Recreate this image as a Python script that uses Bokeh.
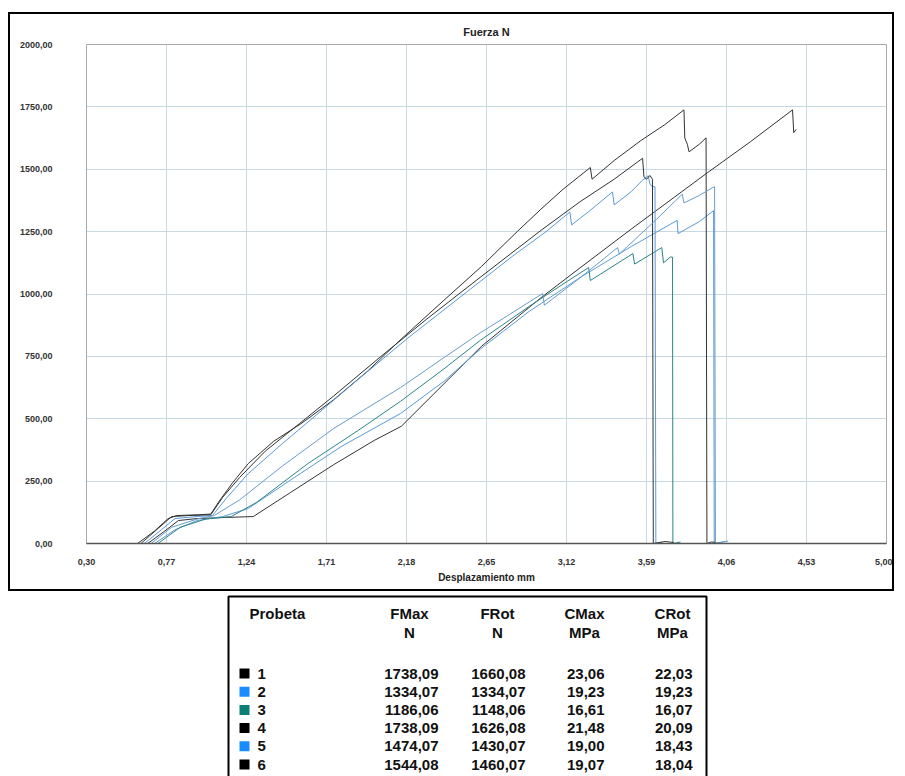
from bokeh.plotting import figure
from bokeh.models import Range1d, FixedTicker, Spacer
from bokeh.layouts import column, row
from bokeh.embed import file_html
from bokeh.resources import INLINE
from bokeh.core.properties import value

# ---------------- data ----------------
x_ticks = [0.30, 0.77, 1.24, 1.71, 2.18, 2.65, 3.12, 3.59, 4.06, 4.53, 5.00]
x_tick_labels = ["0,30", "0,77", "1,24", "1,71", "2,18", "2,65", "3,12", "3,59", "4,06", "4,53", "5,00"]
y_ticks = [0, 250, 500, 750, 1000, 1250, 1500, 1750, 2000]
y_tick_labels = ["0,00", "250,00", "500,00", "750,00", "1000,00", "1250,00", "1500,00", "1750,00", "2000,00"]

# specimen 1 (black)
c1_x = [0.66, 0.76, 0.84, 0.95, 1.10, 1.28, 1.50, 1.75, 1.99, 2.15, 2.36, 2.62, 2.97, 3.20, 3.50, 3.95, 4.20, 4.448, 4.455, 4.47]
c1_y = [0, 50, 92, 100, 104, 108, 205, 315, 413, 470, 613, 790, 985, 1105, 1260, 1487, 1610, 1738, 1647, 1660]
# specimen 2 (blue)
c2_x = [0.70, 0.82, 0.95, 1.10, 1.25, 1.50, 1.80, 2.145, 2.40, 2.615, 2.90, 3.20, 3.50, 3.77, 3.775, 3.90, 3.984, 3.988, 4.05]
c2_y = [0, 55, 92, 108, 140, 255, 390, 521, 650, 780, 930, 1066, 1190, 1295, 1242, 1290, 1334, 0, 8]
# specimen 3 (teal)
c3_x = [0.72, 0.85, 1.00, 1.15, 1.30, 1.60, 1.90, 2.145, 2.40, 2.615, 2.90, 3.10, 3.25, 3.26, 3.51, 3.52, 3.68, 3.69, 3.73, 3.743, 3.745, 3.79]
c3_y = [0, 65, 98, 108, 165, 320, 455, 570, 700, 815, 950, 1040, 1106, 1054, 1162, 1120, 1186, 1125, 1148, 1148, 0, 6]
# specimen 4 (black)
c4_x = [0.60, 0.70, 0.78, 0.83, 0.95, 1.03, 1.08, 1.16, 1.25, 1.40, 1.56, 1.75, 1.95, 2.15, 2.40, 2.62, 2.83, 2.97, 3.10, 3.26, 3.27, 3.40, 3.555, 3.70, 3.81, 3.815, 3.83, 3.84, 3.90, 3.94, 3.945, 3.97, 4.00]
c4_y = [0, 50, 100, 112, 115, 118, 170, 245, 320, 410, 480, 575, 690, 820, 975, 1110, 1250, 1340, 1420, 1507, 1460, 1535, 1614, 1680, 1738, 1625, 1600, 1570, 1600, 1626, 0, 6, 4]
# specimen 5 (blue)
c5_x = [0.64, 0.74, 0.82, 0.95, 1.04, 1.12, 1.25, 1.45, 1.65, 1.90, 2.20, 2.50, 2.80, 3.00, 3.14, 3.15, 3.25, 3.39, 3.40, 3.50, 3.565, 3.60, 3.61, 3.625, 3.64, 3.645, 3.68]
c5_y = [0, 55, 100, 108, 112, 180, 280, 400, 515, 660, 830, 990, 1150, 1250, 1329, 1277, 1330, 1409, 1357, 1410, 1455, 1474, 1440, 1430, 1430, 0, 5]
# specimen 6 (black)
c6_x = [0.62, 0.72, 0.80, 0.90, 1.03, 1.10, 1.20, 1.35, 1.55, 1.75, 2.03, 2.30, 2.60, 2.97, 3.20, 3.40, 3.567, 3.575, 3.59, 3.61, 3.625, 3.63, 3.70, 3.75]
c6_y = [0, 60, 108, 112, 115, 185, 265, 370, 480, 590, 750, 900, 1060, 1255, 1370, 1460, 1544, 1470, 1460, 1475, 1460, 0, 8, 4]
# specimen 7 (blue, row hidden below the page)
c7_x = [0.68, 0.80, 0.95, 1.05, 1.20, 1.45, 1.75, 2.145, 2.40, 2.615, 2.98, 2.99, 3.20, 3.42, 3.43, 3.65, 3.80, 3.81, 3.90, 3.98, 3.99, 3.995, 4.07]
c7_y = [0, 65, 98, 112, 175, 310, 460, 625, 745, 845, 1002, 955, 1065, 1186, 1160, 1300, 1400, 1365, 1395, 1427, 1430, 0, 10]

curve_colors = ["#333333", "#5a9ad8", "#2b8585", "#333333", "#5a9ad8", "#333333", "#6a9cc8"]

# table
probeta = ["1", "2", "3", "4", "5", "6"]
swatch_colors = ["#000000", "#1a8cff", "#0a7f78", "#000000", "#1a8cff", "#000000"]
fmax = ["1738,09", "1334,07", "1186,06", "1738,09", "1474,07", "1544,08"]
frot = ["1660,08", "1334,07", "1148,06", "1626,08", "1430,07", "1460,07"]
cmax = ["23,06", "19,23", "16,61", "21,48", "19,00", "19,07"]
crot = ["22,03", "19,23", "16,07", "20,09", "18,43", "18,04"]
headers1 = ["FMax", "FRot", "CMax", "CRot"]
headers2 = ["N", "N", "MPa", "MPa"]

FONT = "Liberation Sans"

# ---------------- chart ----------------
p = figure(width=886, height=579, x_range=Range1d(0.30, 5.00), y_range=Range1d(0, 2000),
           output_backend="svg", toolbar_location=None,
           min_border_left=76, min_border_right=10, min_border_top=30, min_border_bottom=50,
           title="Fuerza N")
p.styles = {"border": "2px solid #000000"}
try:
    p.frame_align = False
except Exception:
    pass
p.title.align = "center"
p.title.text_font = FONT
p.title.text_font_size = "11px"
p.title.text_font_style = "bold"
p.title.text_color = "#222222"
p.title.offset = 0
p.title.standoff = 14

p.outline_line_color = "#a8a8a8"
p.outline_line_width = 1

p.xaxis.ticker = FixedTicker(ticks=x_ticks)
p.xaxis.major_label_overrides = {t: l for t, l in zip(x_ticks, x_tick_labels)}
p.yaxis.ticker = FixedTicker(ticks=y_ticks)
p.yaxis.major_label_overrides = {t: l for t, l in zip(y_ticks, y_tick_labels)}

for ax in (p.xaxis[0], p.yaxis[0]):
    ax.major_tick_line_color = None
    ax.minor_tick_line_color = None
    ax.major_label_text_font = FONT
    ax.major_label_text_font_size = "9px"
    ax.major_label_text_font_style = "bold"
    ax.major_label_text_color = "#333333"

p.xaxis.axis_line_color = "#555555"
p.xaxis.axis_line_width = 1.5
p.xaxis.major_label_standoff = 9
p.xaxis.axis_label = "Desplazamiento mm"
p.xaxis.axis_label_text_font = FONT
p.xaxis.axis_label_text_font_size = "10px"
p.xaxis.axis_label_text_font_style = "bold"
p.xaxis.axis_label_text_color = "#222222"
p.xaxis.axis_label_standoff = 4

p.yaxis.axis_line_color = None
p.yaxis.major_label_standoff = 28

p.xgrid.grid_line_color = "#c8d8e2"
p.ygrid.grid_line_color = "#c8d8e2"

curves = [(c1_x, c1_y), (c2_x, c2_y), (c3_x, c3_y), (c4_x, c4_y), (c5_x, c5_y), (c6_x, c6_y), (c7_x, c7_y)]
for (cx, cy), col in zip(curves, curve_colors):
    p.line(cx, cy, line_color=col, line_width=1)

# ---------------- table ----------------
T_TOP, T_H, T_W = 591, 185, 894
t = figure(width=T_W, height=T_H, x_range=Range1d(0, T_W), y_range=Range1d(T_TOP + T_H, T_TOP),
           output_backend="svg", toolbar_location=None, min_border=0,
           x_axis_type=None, y_axis_type=None)
try:
    t.frame_align = False
except Exception:
    pass
t.grid.visible = False
t.outline_line_color = None

# box (open at the bottom)
t.line([228, 228, 706, 706], [800, 596, 596, 800], line_color="#000000", line_width=2)

TF = value(FONT)
FS = "15px"
t.text([249], [613], text=["Probeta"], text_font=TF, text_font_size=FS, text_font_style="bold",
       text_align="left", text_baseline="middle", text_color="#111111")
col_cx = [409, 497, 584, 672]
col_right = [438, 525, 604, 692]
t.text(col_cx, [613] * 4, text=headers1, text_font=TF, text_font_size=FS, text_font_style="bold",
       text_align="center", text_baseline="middle", text_color="#111111")
t.text(col_cx, [632] * 4, text=headers2, text_font=TF, text_font_size=FS, text_font_style="bold",
       text_align="center", text_baseline="middle", text_color="#111111")

row_y = [673 + i * 18.2 for i in range(len(probeta))]
t.rect([244] * len(probeta), row_y, width=10, height=10, width_units="screen", height_units="screen",
       fill_color=swatch_colors, line_color=None)
t.text([257] * len(probeta), row_y, text=probeta, text_font=TF, text_font_size=FS, text_font_style="bold",
       text_align="left", text_baseline="middle", text_color="#111111")
for cx, vals in zip(col_right, [fmax, frot, cmax, crot]):
    t.text([cx] * len(vals), row_y, text=vals, text_font=TF, text_font_size=FS, text_font_style="bold",
           text_align="right", text_baseline="middle", text_color="#111111")

layout = column(Spacer(width=T_W, height=12), row(Spacer(width=8, height=579), p), t)
open("out.html", "w").write(file_html(layout, INLINE))
